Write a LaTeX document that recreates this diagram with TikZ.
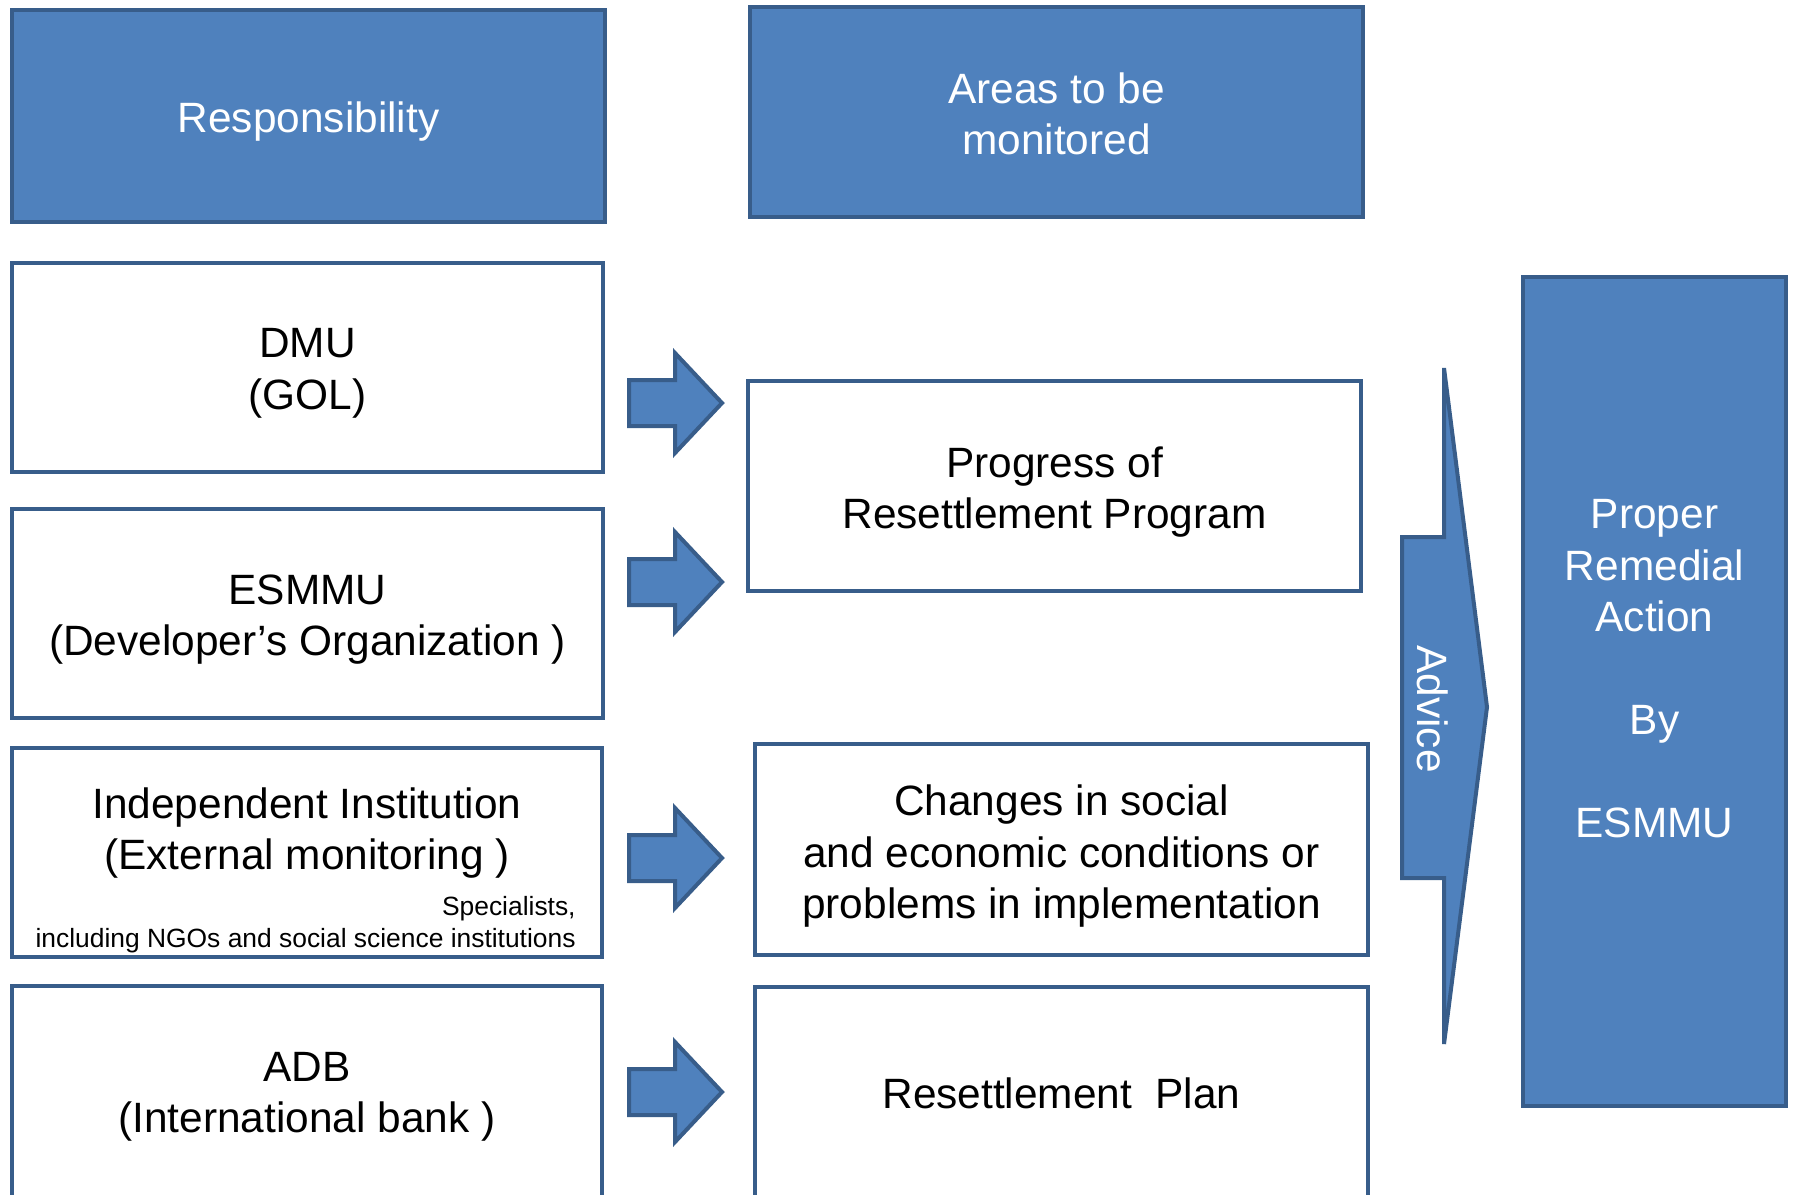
\documentclass[tikz,border=0pt]{standalone}
\usepackage{fontspec}
\setmainfont{Liberation Sans}
\definecolor{fillb}{HTML}{4F81BD}
\definecolor{edgeb}{HTML}{385D8A}
\begin{document}
\begin{tikzpicture}[x=0.5pt,y=-0.5pt,
  mainfont/.style={font=\fontsize{21.2}{25.75}\selectfont},
  bluebox/.style={draw=edgeb, fill=fillb, line width=2pt, inner sep=0pt},
  whitebox/.style={draw=edgeb, fill=white, line width=2pt, inner sep=0pt},
  wtext/.style={mainfont, text=white, align=center, inner sep=0pt},
  btext/.style={mainfont, text=black, align=center, inner sep=0pt},
  barrow/.style={draw=edgeb, fill=fillb, line width=2pt, line join=miter}]
\useasboundingbox (0,0) rectangle (1793,1194);

\node[bluebox, minimum width=296.5pt, minimum height=106pt] (resp) at (308.5,116) {};
\node[wtext] (resptext) at ([yshift=-3pt]resp.center) {Responsibility};
\node[bluebox, minimum width=306.5pt, minimum height=105pt] (areas) at (1056.5,112) {};
\node[wtext] (areastext) at ([yshift=-1pt]areas.center) {Areas to be\\monitored};

\node[whitebox, minimum width=295.5pt, minimum height=104.5pt] (dmu) at (307.5,367.5) {};
\node[btext] (dmutext) at ([yshift=-3pt]dmu.center) {DMU\\(GOL)};
\node[whitebox, minimum width=295.5pt, minimum height=104.5pt] (esmmu) at (307.5,613.5) {};
\node[btext] (esmmutext) at ([yshift=-3pt]esmmu.center) {ESMMU\\(Developer’s Organization )};
\node[whitebox, minimum width=295pt, minimum height=104.5pt] (indep) at (307,852.5) {};
\node[btext] (indeptext) at (307,833) {Independent Institution\\(External monitoring )};
\node[font=\fontsize{13.2}{16}\selectfont, align=right, anchor=east, inner sep=0pt] (spec) at (576,925) {Specialists,\\including NGOs and social science institutions};
\node[whitebox, minimum width=295pt, minimum height=107pt] (adb) at (307,1093) {};
\node[btext] (adbtext) at ([yshift=-2pt]adb.center) {ADB\\(International bank )};

\node[whitebox, minimum width=306.5pt, minimum height=105pt] (prog) at (1054.5,486) {};
\node[btext] (progtext) at ([yshift=-3pt]prog.center) {Progress of\\Resettlement Program};
\node[whitebox, minimum width=306.5pt, minimum height=105.5pt] (chg) at (1061.5,849.5) {};
\node[btext] (chgtext) at ([yshift=-3.5pt]chg.center) {Changes in social\\and economic conditions or\\problems in implementation};
\node[whitebox, minimum width=306.5pt, minimum height=106.5pt] (plan) at (1061.5,1093.5) {};
\node[btext] (plantext) at (plan.center) {Resettlement\ \ Plan};

\node[bluebox, minimum width=131.5pt, minimum height=414.5pt] (rem) at (1654.5,691.5) {};
\node[wtext] (remtext) at (1654.5,669) {Proper\\Remedial\\Action\\[25.75pt]By\\[25.75pt]ESMMU};

\foreach \c in {403,582,858,1092} {
  \draw[barrow] (629,\c-23) -- (675,\c-23) -- (675,\c-50) -- (722,\c) -- (675,\c+50) -- (675,\c+23) -- (629,\c+23) -- cycle;
}

\draw[barrow] (1444,368) -- (1487,707) -- (1444,1044) -- (1444,878) -- (1402,878) -- (1402,537) -- (1444,537) -- cycle;
\node[wtext, rotate=-90] (advice) at (1433,709) {Advice};
\end{tikzpicture}
\end{document}
